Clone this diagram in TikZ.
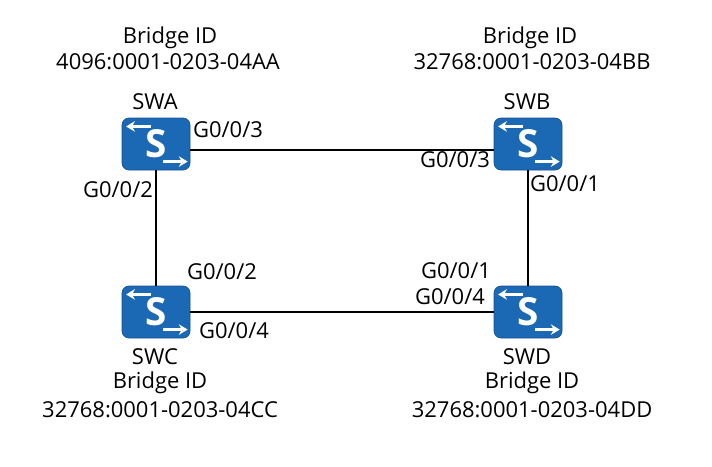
\documentclass[tikz,border=0pt]{standalone}
\usepackage{fontspec}
\setmainfont{Open Sans}
\usepackage{xcolor}
\definecolor{swblue}{HTML}{1B68B5}
\tikzset{
  sw/.style={draw=swblue!80!black, fill=swblue, rounded corners=4pt, minimum width=68*0.02cm, minimum height=52*0.02cm, inner sep=0pt,
    font=\fontsize{22}{22}\selectfont\bfseries, text=white},
  lbl/.style={font=\fontsize{12.5}{14}\selectfont},
  link/.style={line width=1.1pt, black}
}
\newcommand{\swarrows}[1]{%
  \draw[white, line width=1.5pt, -{Stealth[length=5pt,width=6pt]}] ([xshift=-3pt,yshift=10pt]#1.center) -- ([xshift=-17pt,yshift=10pt]#1.center);
  \draw[white, line width=1.5pt, -{Stealth[length=5pt,width=6pt]}] ([xshift=4pt,yshift=-10pt]#1.center) -- ([xshift=18pt,yshift=-10pt]#1.center);
}
\usetikzlibrary{arrows.meta}
\begin{document}
\begin{tikzpicture}[x=0.02cm, y=-0.02cm]
  \useasboundingbox (0,0) rectangle (712,466);
  % switches
  \node[sw] (swa) at (156,144) {S};
  \node[sw] (swb) at (528,144) {S};
  \node[sw] (swc) at (156,312) {S};
  \node[sw] (swd) at (528,312) {S};
  \swarrows{swa} \swarrows{swb} \swarrows{swc} \swarrows{swd}

  % links
  \draw[link] (swa.east |- 0,150) -- (swb.west |- 0,150);
  \draw[link] (swa.south) -- (swc.north);
  \draw[link] (swb.south) -- (swd.north);
  \draw[link] (swc.east) -- (swd.west);

  % names and bridge IDs
  \node[lbl] (na) at (155,102) {SWA};
  \node[lbl] (ba) at (170,38) {Bridge ID};
  \node[lbl] (ia) at (168,62) {4096:0001-0203-04AA};
  \node[lbl] (nb) at (527,102) {SWB};
  \node[lbl] (bb) at (530,38) {Bridge ID};
  \node[lbl] (ib) at (532,62) {32768:0001-0203-04BB};
  \node[lbl] (nc) at (155,357) {SWC};
  \node[lbl] (bc) at (160,383) {Bridge ID};
  \node[lbl] (ic) at (160,410) {32768:0001-0203-04CC};
  \node[lbl] (nd) at (527,357) {SWD};
  \node[lbl] (bd) at (532,383) {Bridge ID};
  \node[lbl] (id) at (532,410) {32768:0001-0203-04DD};

  % ports
  \node[lbl] (pa3) at (228,130) {G0/0/3};
  \node[lbl] (pa2) at (118,190) {G0/0/2};
  \node[lbl] (pb3) at (455,160) {G0/0/3};
  \node[lbl] (pb1) at (565,184) {G0/0/1};
  \node[lbl] (pc2) at (222,272) {G0/0/2};
  \node[lbl] (pc4) at (234,331) {G0/0/4};
  \node[lbl] (pd1) at (456,271) {G0/0/1};
  \node[lbl] (pd4) at (450,297) {G0/0/4};
\end{tikzpicture}
\end{document}
